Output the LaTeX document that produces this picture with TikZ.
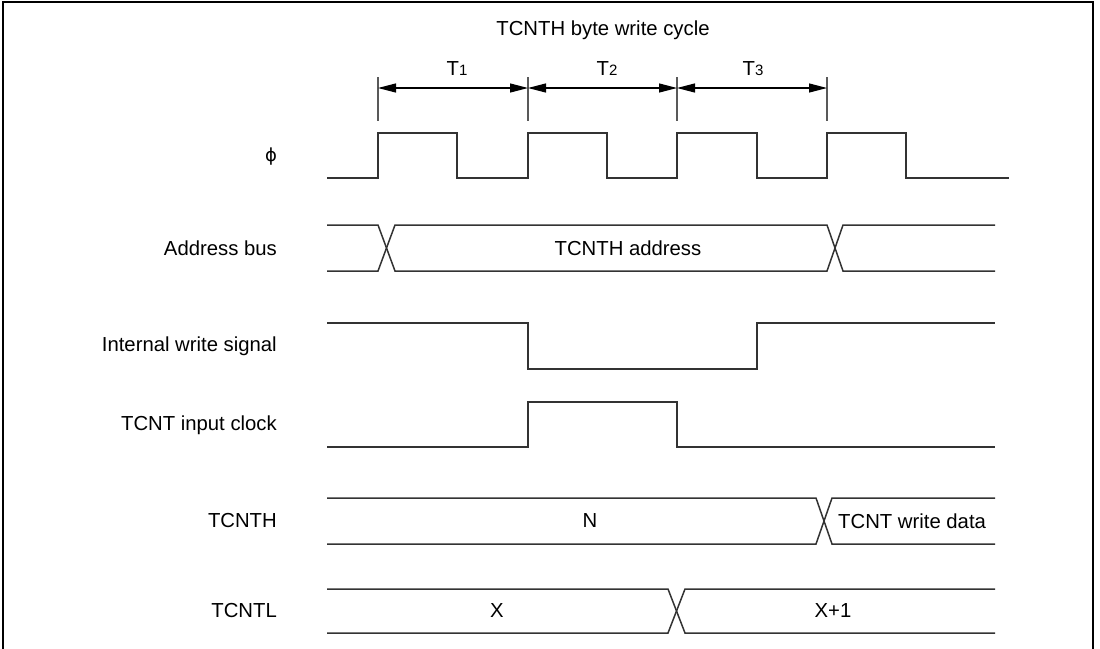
\documentclass[tikz,border=0pt]{standalone}
\usepackage{fontspec}
\setmainfont{Liberation Sans}
\newfontfamily\dejavu{DejaVu Sans}
\usetikzlibrary{arrows.meta}
\begin{document}
\begin{tikzpicture}[x=1pt,y=-1pt,
  sig/.style={line width=1.5pt, draw=black!80, line join=miter},
  tick/.style={line width=1.2pt, draw=black!65},
  dim/.style={line width=1.2pt, draw=black, {Triangle[length=18pt,width=9pt]}-{Triangle[length=18pt,width=9pt]}},
  txt/.style={font=\fontsize{20.3}{24}\selectfont, inner sep=0pt},
  lbl/.style={txt, anchor=east}]
\useasboundingbox (0,0) rectangle (1100,648);
\draw[line width=2pt] (3,652) -- (3,2) -- (1093,2) -- (1093,652);

% title and periods
\node[txt] (title) at (603,30) {TCNTH byte write cycle};
\foreach \x/\n in {378/a,528/b,677/c,827/d}
  \draw[tick] (\x,77) coordinate (t\n) -- (\x,121);
\draw[dim] (378,88) coordinate (a1) -- (528,88) coordinate (b1);
\draw[dim] (528,88) -- (677,88) coordinate (c1);
\draw[dim] (677,88) -- (827,88) coordinate (d1);
\newcommand{\sub}[1]{{\fontsize{15}{16}\selectfont #1}}
\node[txt] (T1) at (457,69) {T\sub{1}};
\node[txt] (T2) at (607,69) {T\sub{2}};
\node[txt] (T3) at (753,69) {T\sub{3}};

% labels
\node[txt, font=\dejavu\fontsize{18}{22}\selectfont] (phi) at (271,157) {ϕ};
\node[lbl] (ab) at (277,248) {Address bus};
\node[lbl] (iw) at (277,346) {Internal write signal};
\node[lbl] (ic) at (277,425) {TCNT input clock};
\node[lbl] (th) at (277,521) {TCNTH};
\node[lbl] (tl) at (277,611) {TCNTL};

% phi clock
\draw[sig] (327,178) -| (378,133) -| (457,178) -| (528,133) -| (607,178) -| (677,133) -| (757,178) -| (827,133) -| (906,178) -- (1009,178);

% address bus
\draw[sig] (327,225) -- (378,225) -- (395,271) -- (827,271) -- (843,225) -- (995,225);
\draw[sig] (327,271) -- (378,271) -- (395,225) -- (827,225) -- (843,271) -- (995,271);
\node[txt] (addr) at (628,248) {TCNTH address};

% internal write signal
\draw[sig] (327,323) -| (528,369) -| (757,323) -- (995,323);

% TCNT input clock
\draw[sig] (327,447) -| (528,402) -| (677,447) -- (995,447);

% TCNTH
\draw[sig] (327,498) -- (816,498) -- (832,544) -- (995,544);
\draw[sig] (327,544) -- (816,544) -- (832,498) -- (995,498);
\node[txt] (N) at (590,521) {N};
\node[txt, anchor=west] (wd) at (838,521) {TCNT write data};

% TCNTL
\draw[sig] (327,589) -- (668,589) -- (685,633) -- (995,633);
\draw[sig] (327,633) -- (668,633) -- (685,589) -- (995,589);
\node[txt] (X) at (497,611) {X};
\node[txt] (X1) at (833,611) {X+1};
\end{tikzpicture}
\end{document}
